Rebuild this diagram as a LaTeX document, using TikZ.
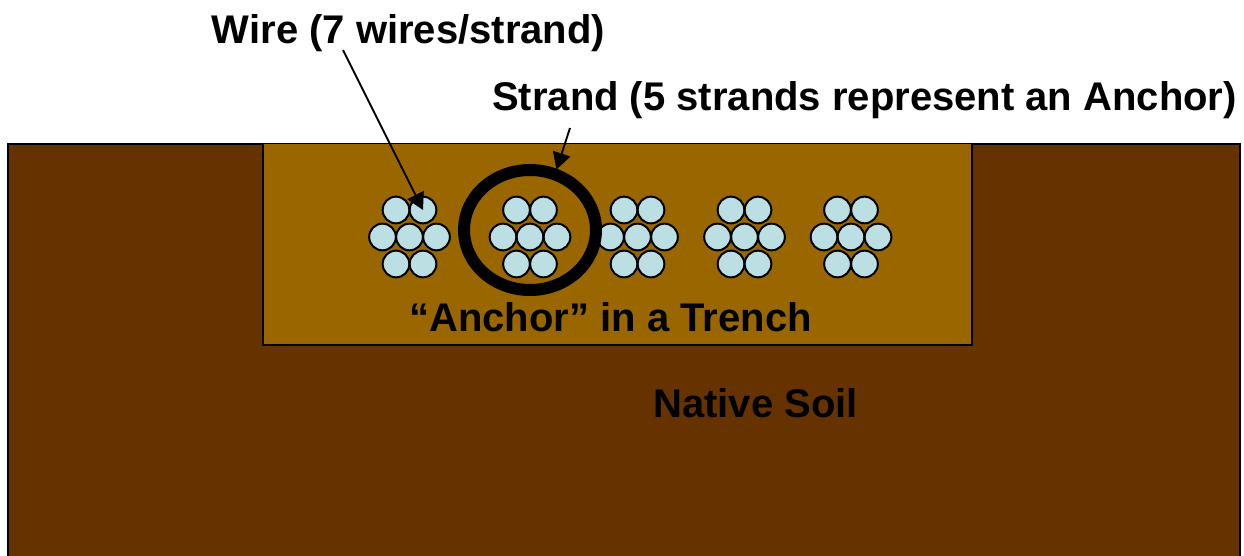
\documentclass[tikz,border=0pt]{standalone}
\usepackage{fontspec}
\setmainfont{Liberation Sans}
\usetikzlibrary{arrows.meta}
\usetikzlibrary{shapes.geometric}
\definecolor{soilc}{HTML}{663300}
\definecolor{trenchc}{HTML}{996600}
\definecolor{wirec}{HTML}{BBDFE3}
\tikzset{
  soilbox/.style={draw=black,line width=1.5pt,fill=soilc},
  trenchbox/.style={draw=black,line width=1.2pt,fill=trenchc},
  wirenode/.style={circle,draw=black,line width=1.5pt,fill=wirec,minimum size=20pt,inner sep=0pt},
  ringnode/.style={ellipse,draw=black,line width=9pt,minimum width=99pt,minimum height=90pt,inner sep=0pt},
  labeltext/.style={font=\bfseries\fontsize{30pt}{32pt}\selectfont,text=black,inner sep=0pt,anchor=base},
  pointer/.style={draw=black,line width=1.4pt,-{Triangle[length=12.5pt,width=13.5pt]}},
}
\begin{document}
\begin{tikzpicture}[x=0.75pt,y=-0.75pt]
\path[use as bounding box,clip] (0,0) rectangle (1244,556);
\node[soilbox,minimum width=923.6pt,minimum height=400pt,anchor=north west,inner sep=0pt] (soil) at (7.4,142.6) {};
\node[trenchbox,minimum width=532pt,minimum height=151pt,anchor=north west,inner sep=0pt] (trench) at (262,142.6) {};
\foreach \s/\cx in {1/409.5,2/530,3/637.5,4/744.5,5/851}{
  \foreach \w/\dx/\dy in {a/-13.5/-27,b/13.5/-27,c/-27/0,d/0/0,e/27/0,f/-13.5/27,g/13.5/27}{
    \node[wirenode] (w\s\w) at ({\cx+\dx},{237+\dy}) {};
  }
}
\node[ringnode] (ring) at (530,230) {};
\node[labeltext] (wirelabel) at (408.5,44) {Wire (7 wires/strand)};
\node[labeltext] (strandlabel) at (864.5,110.8) {Strand (5 strands represent an Anchor)};
\node[labeltext] (anchorlabel) at (610.5,331) {“Anchor” in a Trench};
\node[labeltext] (soillabel) at (755.5,417) {Native Soil};
\coordinate (wirestart) at (343,50);
\coordinate (strandstart) at (570,128);
\coordinate (ringtop) at (556.5,169.5);
\draw[pointer] (wirestart) -- (w1b.center);
\draw[pointer] (strandstart) -- (ringtop);
\end{tikzpicture}
\end{document}
